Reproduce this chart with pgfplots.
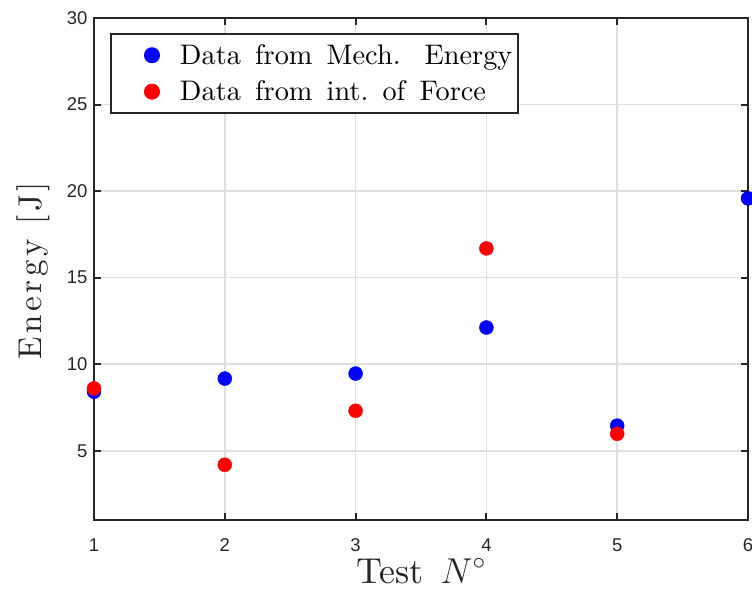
\RequirePackage{fix-cm}
\documentclass[border=0pt]{standalone}
\usepackage{pgfplots}
\pgfplotsset{compat=1.18}
\usepackage{fontspec}
\setmainfont{lmroman10-regular.otf}[ItalicFont=lmroman10-italic.otf, BoldFont=lmroman10-bold.otf]
\newfontfamily\tickfont{Liberation Sans}
\newfontfamily\spacedfont{lmroman10-regular.otf}[LetterSpace=11]
\newcommand\legfont{\fontsize{28.3}{34}\selectfont\spaceskip=0.5em\relax\xspaceskip=0.5em\relax}
\definecolor{axcol}{RGB}{38,38,38}
\definecolor{gridcol}{RGB}{223,223,223}
\begin{document}
\begin{tikzpicture}
\path[use as bounding box] (-94pt,-70pt) rectangle (658pt,520pt);
\begin{axis}[
  scale only axis, width=654pt, height=502pt,
  xmin=1, xmax=6, ymin=1, ymax=30,
  xtick={1,2,3,4,5,6}, ytick={5,10,15,20,25,30},
  grid=major, major grid style={color=gridcol, line width=1.5pt},
  axis line style={color=axcol, line width=2pt},
  tick style={color=axcol, line width=2pt},
  major tick length=7pt, tick align=inside,
  /pgf/number format/assume math mode=true,
  ticklabel style={font=\tickfont\fontsize{18.5}{18.5}\selectfont, color=axcol},
  xticklabel style={yshift=-15pt},
  yticklabel style={xshift=-3pt},
  xlabel={Test\hspace{5pt} $N^\circ$}, ylabel={Energy [J]},
  label style={color=axcol},
  xlabel style={font=\fontsize{36}{36}\selectfont, at={(axis description cs:0.5,0)}, anchor=base, yshift=-63pt},
  ylabel style={font=\spacedfont\fontsize{33}{33}\selectfont, at={(axis description cs:0,0.5)}, anchor=base, yshift=52pt, xshift=-2pt},
  legend style={at={(axis description cs:0,1)}, anchor=north west, xshift=16pt, yshift=-15pt,
    draw=axcol, line width=2pt, font=\legfont,
    inner xsep=4pt, inner ysep=8.5pt, row sep=11pt},
  legend image code/.code={\path[draw=none,fill=none] (0pt,0pt) -- (63pt,0pt); \draw[#1] plot coordinates {(37pt,0pt)};},
  legend cell align=left,
  clip=false,
]
\addplot[only marks, mark=*, mark size=7pt, color=blue, fill=blue] coordinates {
  (1,8.41) (2,9.17) (3,9.46) (4,12.12) (5,6.45) (6,19.58)
};
\addlegendentry{Data from Mech.\hspace{24pt}Energy}
\addplot[only marks, mark=*, mark size=7pt, color=red, fill=red] coordinates {
  (1,8.6) (2,4.19) (3,7.31) (4,16.69) (5,5.98)
};
\addlegendentry{Data from int. of Force}
\end{axis}
\end{tikzpicture}
\end{document}
